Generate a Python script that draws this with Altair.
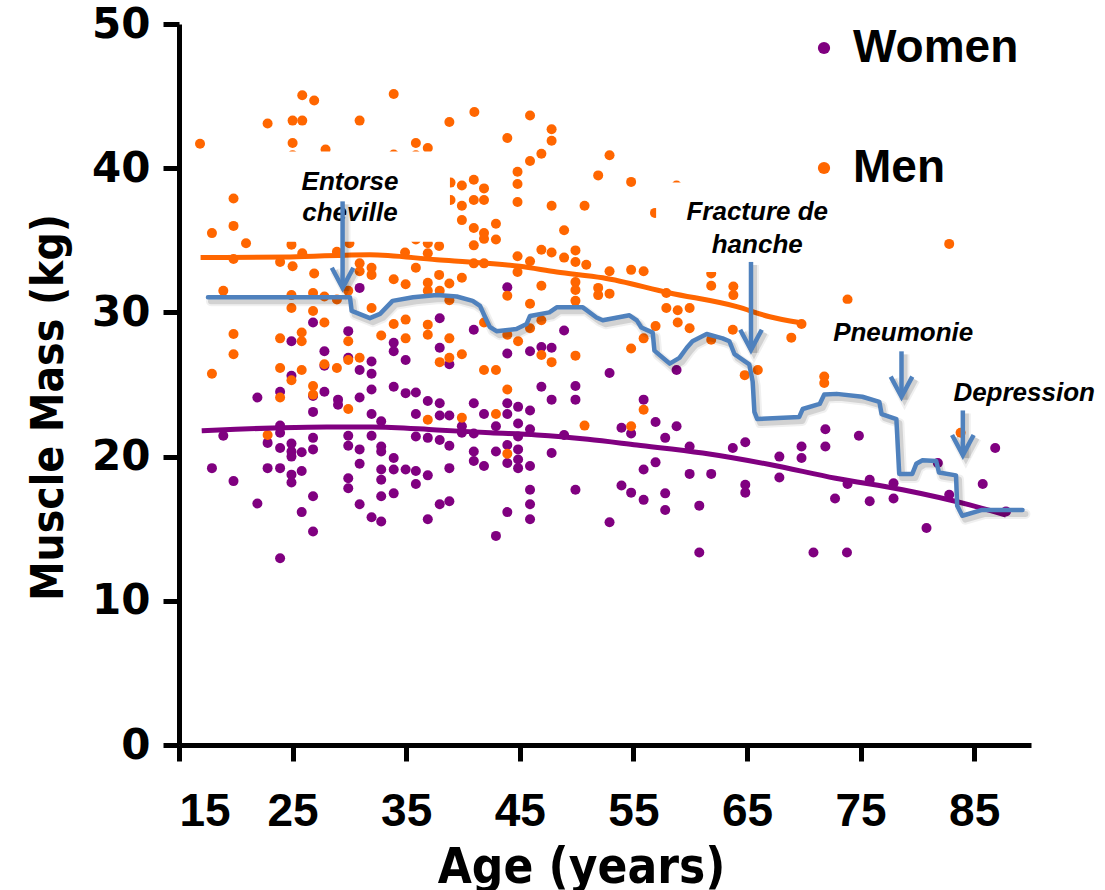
import altair as alt
import pandas as pd

# ---- scatter: women ----
women_age = [30.9, 26.8, 29.9, 24.9, 27.8, 29.9, 31.95, 30.9, 31.95, 27.8, 24.9, 21.9, 23.9, 26.8, 27.8,
             29.0, 29.0, 30.9, 31.95, 26.8, 31.95, 32.8, 23.9, 18.9, 23.9, 26.8, 29.9, 31.95, 22.8, 23.9,
             24.9, 24.9, 24.9, 25.8, 26.8, 29.9, 30.9, 32.8, 32.8, 17.9, 22.8, 23.9, 19.8, 24.9, 25.8,
             24.9, 29.9, 29.9, 30.9, 32.8, 32.8, 32.8, 21.9, 26.8, 30.9, 25.8, 31.95, 32.8, 26.8, 23.9,
             43.9, 37.95, 40.95, 48.9, 33.9, 33.9, 34.95, 37.95, 38.8, 43.9, 45.9, 46.9, 47.8, 33.9, 34.95,
             35.85, 36.9, 37.95, 40.95, 43.9, 44.85, 45.9, 46.9, 47.8, 49.9, 49.9, 35.85, 37.95, 38.8, 41.85,
             43.9, 39.9, 42.9, 44.85, 45.9, 35.85, 36.9, 37.95, 38.8, 39.9, 40.95, 44.85, 48.9, 33.9, 40.95,
             40.95, 41.85, 42.9, 43.9, 43.9, 44.85, 44.85, 44.85, 45.9, 47.8, 38.8, 33.9, 34.95, 35.85, 36.9,
             35.85, 33.9, 45.9, 45.9, 49.9, 37.95, 38.8, 36.9, 43.9, 45.9, 42.9,
             52.9, 58.8, 55.9, 53.95, 54.8, 56.95, 57.8, 58.8, 59.95, 63.75, 64.85, 69.8, 69.8, 67.85, 71.9,
             71.9, 74.85, 53.95, 54.8, 55.9, 55.9, 56.95, 57.8, 57.8, 59.95, 61.85, 60.8, 64.85, 64.85, 67.85,
             72.75, 73.85, 75.8, 75.8, 77.9, 77.9, 81.8, 82.8, 80.8, 85.75, 86.85, 87.8, 52.9, 60.8, 70.85,
             73.8]
women_mass = [31.7, 29.3, 28.7, 28.0, 27.3, 26.85, 26.6, 26.0, 25.75, 26.3, 25.6, 24.1, 24.5, 24.2, 24.5,
              23.95, 23.6, 24.1, 24.65, 23.1, 22.95, 22.45, 22.15, 21.45, 21.65, 21.3, 21.45, 21.45, 20.95, 20.6,
              20.9, 20.35, 20.0, 20.3, 20.5, 20.75, 20.5, 20.7, 20.35, 19.2, 19.2, 19.2, 18.3, 18.75, 19.0,
              18.2, 18.5, 17.8, 19.5, 19.1, 18.4, 17.25, 16.75, 17.25, 16.7, 16.15, 15.8, 15.5, 14.8, 12.95,
              31.75, 29.6, 28.8, 28.75, 27.9, 27.3, 26.7, 27.55, 26.4, 27.15, 27.3, 27.6, 27.55, 24.85, 24.4,
              24.45, 23.85, 23.7, 23.7, 23.7, 23.45, 23.2, 24.85, 23.95, 24.9, 23.95, 22.95, 22.85, 22.85, 22.95,
              22.95, 22.1, 22.1, 22.3, 21.9, 21.4, 21.3, 21.15, 20.75, 21.65, 21.6, 21.4, 21.5, 19.9, 20.35,
              19.7, 19.35, 20.35, 20.8, 19.55, 20.5, 19.8, 19.2, 19.35, 20.25, 19.2, 19.1, 19.1, 19.0, 18.7,
              18.1, 17.45, 17.7, 16.7, 17.7, 16.7, 16.9, 15.65, 16.15, 15.65, 14.5,
              25.8, 26.0, 23.95, 22.0, 21.6, 22.4, 21.3, 22.1, 20.7, 20.6, 21.0, 20.7, 19.9, 20.0, 21.9,
              20.7, 21.45, 18.0, 17.5, 17.0, 19.1, 19.6, 17.45, 16.3, 18.8, 18.8, 16.6, 18.05, 17.5, 18.55,
              17.1, 18.1, 18.4, 16.9, 18.15, 17.1, 19.55, 17.35, 15.05, 18.1, 20.6, 16.2, 15.45, 13.35, 13.35,
              13.35]

# ---- scatter: men ----
men_age = [25.85, 26.9, 22.8, 25.0, 25.85, 30.9, 16.85, 25.0, 25.0, 27.9, 33.9, 19.8, 19.8, 17.9, 20.9,
           24.9, 25.85, 28.9, 30.0, 19.8, 23.9, 25.0, 26.9, 30.9, 31.95, 31.95, 33.9,
           18.9, 24.9, 26.8, 27.8, 28.9, 29.9, 30.9, 24.9, 26.8, 27.8, 31.95, 19.8, 23.9, 25.8, 25.8,
           29.9, 32.8, 19.8, 17.9, 23.9, 24.9, 25.8, 27.8, 28.9, 29.9, 30.9, 26.8, 26.8, 23.9, 29.9, 22.8,
           41.0, 45.9, 38.8, 47.8, 47.8, 43.9, 35.85, 36.9, 35.85, 46.9, 45.9, 44.8, 44.8, 44.8, 47.8,
           50.7, 48.9, 38.9, 38.9, 39.9, 40.95, 41.85, 39.9, 40.95, 41.85, 39.9, 40.95, 41.85, 42.9, 41.85,
           42.9, 40.95, 35.85, 36.9, 37.9, 34.9, 36.9, 44.8, 45.9, 46.9, 47.8, 48.9, 49.9, 49.9, 50.85,
           35.85, 40.95, 41.85, 44.8, 33.9, 37.9, 39.9,
           34.95, 36.9, 36.9, 37.95, 38.8, 38.8, 43.9, 46.9, 45.9, 49.9, 49.9, 49.9, 33.9, 34.95, 36.9,
           36.9, 34.95, 38.8, 41.85, 43.9, 44.85, 45.9, 46.9, 37.95, 38.8, 39.9, 41.85, 42.9, 46.9, 47.8,
           49.9, 43.9, 36.9, 39.9, 42.9, 50.7, 43.9,
           52.9, 51.9, 54.8, 58.8, 56.9, 82.8, 52.9, 54.8, 55.9, 61.85, 51.9, 51.9, 52.9, 57.9, 61.85,
           63.8, 63.8, 57.9, 58.9, 59.95, 73.85, 56.95, 58.9, 59.95, 63.75, 68.9, 69.8, 55.9, 54.8, 61.85,
           65.95, 64.8, 71.8, 71.8, 54.8, 55.9, 83.8]
men_mass = [45.06, 44.7, 43.1, 43.3, 43.3, 43.3, 41.7, 41.75, 40.9, 41.3, 45.15, 37.9, 36.0, 35.5, 34.8,
            34.7, 34.1, 34.2, 34.8, 33.7, 33.5, 33.2, 32.7, 33.4, 33.1, 32.6, 40.95,
            31.5, 31.2, 31.35, 31.1, 30.9, 31.5, 32.85, 30.3, 30.1, 29.3, 30.3, 28.5, 28.2, 28.6, 28.0,
            28.0, 28.4, 27.1, 25.75, 26.15, 25.3, 26.0, 26.4, 26.15, 26.7, 26.85, 24.9, 24.3, 24.1, 23.3, 21.5,
            43.9, 43.65, 43.2, 42.7, 41.9, 42.1, 41.75, 41.4, 40.9, 41.0, 40.5, 39.75, 38.9, 37.65, 37.4,
            37.4, 35.7, 39.0, 37.8, 38.8, 39.2, 38.6, 37.4, 37.8, 37.8, 36.4, 35.85, 35.5, 36.15, 35.1,
            35.05, 34.65, 35.05, 34.8, 34.6, 34.15, 34.1, 33.9, 33.55, 34.35, 34.15, 33.8, 34.3, 33.5, 33.3,
            33.1, 33.4, 33.4, 32.8, 32.3, 32.6, 32.4,
            31.95, 32.05, 31.5, 31.5, 32.0, 30.85, 31.15, 31.85, 30.6, 32.1, 31.55, 30.8, 29.2, 29.5, 29.15,
            28.45, 28.2, 28.2, 29.3, 28.45, 28.0, 28.9, 29.45, 26.55, 26.85, 27.1, 26.0, 26.0, 27.05, 26.55,
            27.0, 24.65, 22.55, 22.7, 22.95, 22.15, 20.2,
            40.9, 39.5, 39.05, 38.8, 36.9, 34.75, 32.85, 32.95, 32.85, 32.7, 31.7, 31.2, 31.3, 31.35, 31.85,
            31.8, 31.2, 30.3, 30.15, 30.3, 30.9, 29.05, 29.3, 28.9, 28.8, 28.25, 29.2, 28.2, 27.5, 28.1,
            26.0, 25.65, 25.55, 25.1, 22.1, 23.25, 21.65]

# ---- age trends ----
men_fit_age = [16.9, 24.8, 31.8, 37.7, 41.5, 45.0, 48.25, 52.3, 58.2, 64.1, 67.0, 69.6]
men_fit_mass = [33.8, 33.85, 34.0, 33.65, 33.45, 33.2, 32.8, 32.4, 31.35, 30.4, 29.7, 29.3]
women_fit_age = [17.0, 20.0, 24.0, 28.0, 32.0, 37.7, 42.4, 46.5, 51.0, 55.3, 61.1, 67.0, 72.8, 78.7, 84.6, 87.8]
women_fit_mass = [21.8, 21.9, 22.0, 22.05, 22.05, 21.85, 21.65, 21.5, 21.2, 20.8, 20.25, 19.45, 18.5, 17.7, 16.65, 15.95]

# ---- one man's trajectory ----
path_age = [17.55, 30.05, 30.2, 31.8, 32.7, 33.8, 35.6, 37.7, 39.45, 40.85, 41.5, 41.9, 42.35, 42.95,
            44.7, 45.6, 45.9, 47.6, 48.25, 49.4, 50.55, 51.75, 52.3, 54.65, 55.3, 55.7, 56.7, 56.85,
            57.9, 58.2, 59.05, 59.7, 60.2, 61.45, 62.85, 63.45, 63.9, 65.2, 65.5, 65.65, 65.9, 69.6,
            69.9, 71.4, 71.8, 72.9, 75.15, 76.65, 76.85, 78.15, 78.4, 79.55, 79.9, 80.45, 81.65, 81.9,
            83.4, 83.5, 83.95, 85.7, 89.25]
path_mass = [31.05, 31.05, 30.1, 29.6, 29.9, 30.8, 31.05, 31.2, 31.1, 30.8, 30.45, 29.75, 29.0, 28.7,
             28.85, 29.2, 29.75, 30.0, 30.35, 30.35, 30.35, 29.65, 29.45, 29.8, 29.45, 28.95, 28.6, 27.35,
             26.65, 26.45, 26.85, 27.55, 28.0, 28.5, 28.2, 28.0, 27.1, 26.4, 25.2, 23.1, 22.6, 22.75,
             23.3, 23.65, 24.3, 24.35, 24.15, 23.8, 22.95, 22.6, 18.8, 18.8, 19.5, 19.75, 19.7, 18.9,
             18.7, 16.6, 15.9, 16.3, 16.3]

# ---- events ----
arrow_age = [29.4, 65.35, 78.6, 84.0]
arrow_top = [37.7, 33.5, 27.3, 23.2]
arrow_tip = [31.7, 27.4, 24.15, 20.1]
note_text = ["Entorse", "cheville", "Fracture de", "hanche", "Pneumonie", "Depression"]
note_age = [30.05, 30.05, 65.9, 65.9, 78.75, 89.4]
note_mass = [38.5, 36.35, 36.4, 34.1, 28.0, 23.85]
box_age = [24.3, 57.0, 71.9]
box_age2 = [38.85, 73.6, 85.9]
box_mass = [41.15, 39.0, 30.6]
box_mass2 = [34.9, 32.8, 26.9]

PURPLE = "#800080"
ORANGE = "#FF6600"
BLUE = "#4F81BD"
HEAD_W = 0.95  # arrowhead half-width (years)
HEAD_H = 1.4   # arrowhead height (kg)
TITLE_FONT = "DejaVu Sans Condensed, Liberation Sans"

scatter_df = pd.concat([
    pd.DataFrame({"age": women_age, "mass": women_mass, "sex": "Women"}),
    pd.DataFrame({"age": men_age, "mass": men_mass, "sex": "Men"}),
])
men_fit_df = pd.DataFrame({"age": men_fit_age, "mass": men_fit_mass})
women_fit_df = pd.DataFrame({"age": women_fit_age, "mass": women_fit_mass})
path_df = pd.DataFrame({"age": path_age, "mass": path_mass, "k": range(len(path_age))})
note_df = pd.DataFrame({"text": note_text, "age": note_age, "mass": note_mass})
box_df = pd.DataFrame({"age": box_age, "age2": box_age2, "mass": box_mass, "mass2": box_mass2})

arrow_rows = []
for i, (a, top, tip) in enumerate(zip(arrow_age, arrow_top, arrow_tip)):
    arrow_rows += [
        {"seg": f"s{i}", "k": 0, "age": a, "mass": top},
        {"seg": f"s{i}", "k": 1, "age": a, "mass": tip},
        {"seg": f"h{i}", "k": 0, "age": a - HEAD_W, "mass": tip + HEAD_H},
        {"seg": f"h{i}", "k": 1, "age": a, "mass": tip},
        {"seg": f"h{i}", "k": 2, "age": a + HEAD_W, "mass": tip + HEAD_H},
    ]
arrow_df = pd.DataFrame(arrow_rows)

x_scale = alt.Scale(domain=[15, 90], nice=False, zero=False)
y_scale = alt.Scale(domain=[0, 50], nice=False, zero=False)

x_axis = alt.Axis(
    values=[15, 25, 35, 45, 55, 65, 75, 85], grid=False,
    domainColor="black", domainWidth=5, tickColor="black", tickWidth=5, tickSize=16,
    labelFont="Liberation Sans", labelFontSize=46, labelFontWeight="bold", labelColor="black",
    labelPadding=28,
    title="Age (years)", titleFont=TITLE_FONT, titleFontSize=49, titleFontWeight="bold",
    titleColor="black", titleX=402, titleY=137, titleAlign="center", titleBaseline="alphabetic",
)
y_axis = alt.Axis(
    values=[0, 10, 20, 30, 40, 50], grid=False,
    domainColor="black", domainWidth=5, tickColor="black", tickWidth=5, tickSize=16,
    labelFont="DejaVu Sans", labelFontSize=42, labelFontWeight="bold", labelColor="black",
    labelPadding=13,
    title="Muscle Mass (kg)", titleFont=TITLE_FONT, titleFontSize=44, titleFontWeight="bold",
    titleColor="black", titleAngle=-90, titleX=-117, titleY=383, titleAlign="center",
    titleBaseline="alphabetic",
)


def X(field="age"):
    return alt.X(f"{field}:Q", scale=x_scale, axis=x_axis)


def Y(field="mass"):
    return alt.Y(f"{field}:Q", scale=y_scale, axis=y_axis)


points = alt.Chart(scatter_df).mark_circle(size=100, opacity=1).encode(
    x=X(), y=Y(),
    color=alt.Color(
        "sex:N",
        scale=alt.Scale(domain=["Women", "Men"], range=[PURPLE, ORANGE]),
        legend=alt.Legend(
            title=None, orient="none", legendX=622, legendY=1, padding=0,
            symbolType="circle", symbolSize=150, symbolStrokeWidth=0,
            labelFont="Liberation Sans", labelFontSize=46, labelFontWeight="bold", labelColor="black",
            labelOffset=6, rowPadding=74, labelLimit=400,
        ),
    ),
)


def trend(df, color):
    return alt.Chart(df).mark_line(color=color, strokeWidth=5, interpolate="monotone").encode(
        x=X(), y=Y(),
    )


boxes = alt.Chart(box_df).mark_rect(color="white").encode(
    x=X(), x2="age2:Q", y=Y(), y2="mass2:Q",
)

notes = alt.Chart(note_df).mark_text(
    font="Liberation Sans", fontSize=26, fontWeight="bold", fontStyle="italic",
    color="black", align="center", baseline="alphabetic",
).encode(x=X(), y=Y(), text="text:N")


def path_layer(color, width, opacity, dx=0, dy=0):
    return alt.Chart(path_df).mark_line(
        color=color, strokeWidth=width, opacity=opacity, strokeJoin="round", strokeCap="round",
        xOffset=dx, yOffset=dy,
    ).encode(x=X(), y=Y(), order="k:Q")


def arrow_layer(color, width, opacity, dx=0, dy=0):
    return alt.Chart(arrow_df).mark_line(
        color=color, strokeWidth=width, opacity=opacity, strokeJoin="miter", strokeCap="butt",
        xOffset=dx, yOffset=dy,
    ).encode(x=X(), y=Y(), detail="seg:N", order="k:Q")


chart = alt.layer(
    points,
    trend(men_fit_df, ORANGE),
    trend(women_fit_df, PURPLE),
    boxes,
    notes,
    path_layer("#000000", 10, 0.06, 3, 4),
    path_layer("#000000", 6, 0.12, 3, 4),
    arrow_layer("#000000", 10, 0.06, 3, 3),
    arrow_layer("#000000", 6, 0.12, 3, 3),
    path_layer(BLUE, 4.5, 1),
    arrow_layer(BLUE, 4.5, 1),
).properties(
    width=852, height=721,
    background="white",
    padding={"left": 179, "top": 24, "right": 74, "bottom": 145},
    autosize=alt.AutoSizeParams(type="none"),
).configure_view(stroke=None)

chart.save("out.html", embed_options={"renderer": "svg", "actions": False})
